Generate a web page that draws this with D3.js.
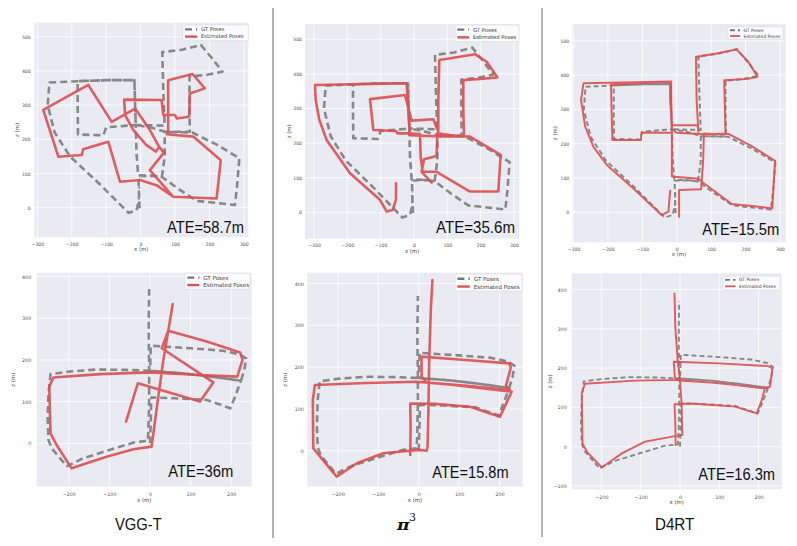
<!DOCTYPE html>
<html><head><meta charset="utf-8">
<script src="https://cdn.jsdelivr.net/npm/d3@7"></script>
<style>body{margin:0;background:#fff} svg{display:block}</style>
</head><body>
<svg id="c" width="797" height="546"></svg>
<script>
// ---------------- DATA ----------------
const methods = ["VGG-T", "π", "D4RT"];
const ateTop = ["ATE=58.7m", "ATE=35.6m", "ATE=15.5m"];
const ateBottom = ["ATE=36m", "ATE=15.8m", "ATE=16.3m"];
const legendLabels = ["GT Poses", "Estimated Poses"];
const xTicksTop = [-300, -200, -100, 0, 100, 200, 300];
const zTicksTop = [0, 100, 200, 300, 400, 500];
const xTicksBottom = [-200, -100, 0, 100, 200];
const zTicksBottom = [0, 100, 200, 300, 400];
const zTicksBottomD4 = [-100, 0, 100, 200, 300, 400];

// ground-truth trajectory, top row  [x, z] in metres
const gtTop = [
 [-3,-2],[-5,50],[-6,92],[30,93],[62,91],[70,150],[70,222],
 [110,222],[143,222],[142,300],[142,384],[190,388],[238,398],[205,440],[175,476],[120,462],[63,455],[66,340],[70,240],
 [28,241],[-14,242],[-16,300],[-18,373],[-100,373],[-183,370],[-183,300],[-182,214],[-108,212],[-100,235],[-14,242],
 [-12,160],[-7,95],[30,94],[62,90],[110,55],[163,20],[220,14],[274,8],[280,60],[287,145],[220,185],[150,220],[72,222],
 [28,235],[-14,242],[-16,300],[-18,373],[-100,373],[-183,370],[-265,366],[-270,300],[-250,220],[-205,150],[-120,70],[-35,-15],[-12,-8],[-5,20],[-4,60]
];
const estVggTop = [
 [80,217],[80,373],[151,391],[187,349],[143,334],[141,266],[105,261],[100,271],[66,271],[61,315],[-48,316],
 [-45,271],[-21,227],[17,183],[45,164],[54,178],[27,227],[-16,290],[-84,251],[-152,359],[-283,286],[-239,149],
 [-171,154],[-167,171],[-94,193],[-60,76],[-2,81],[46,66],[95,32],[221,27],[233,139],[153,208],[76,215],
 null,[54,178],[68,161],[27,110],[93,34]
];
const estPiTop = [
 [53,86],[23,117],[30,153],[68,163],[70,228],
 [108,223],[150,219],[148,305],[148,382],[208,386],[250,390],[218,435],[183,457],[128,448],[76,440],[73,325],[73,233],
 [58,269],[-7,265],[-27,339],[-132,327],[-122,238],[-54,235],[-50,228],[-12,228],
 [18,226],[20,161],[26,117],[68,117],[168,60],[253,60],[260,166],[168,219],[78,219],
 [-12,223],[-17,296],[-22,373],[-132,371],[-297,368],[-295,325],[-284,267],[-262,209],[-192,113],[-102,36],[-82,2],[-64,7],[-54,36],[-54,84]
];
const estD4Top = [
 [7,-13],[7,65],[71,67],[77,152],[79,230],
 [111,228],[142,230],[140,308],[138,385],[208,389],[235,395],[208,439],[174,475],[116,463],[56,453],[58,327],[63,235],
 [61,254],[-14,254],[-19,327],[-19,379],[-121,376],[-191,371],[-189,288],[-187,211],[-104,211],[-102,233],[-14,232],
 [-14,162],[-14,104],[63,98],[77,86],[160,24],[218,18],[278,12],[282,85],[286,150],[218,193],[152,228],[73,228],
 [0,232],[-14,242],[-16,327],[-16,381],[-121,379],[-271,376],[-278,327],[-266,250],[-242,191],[-203,138],[-121,65],[-44,-8],[-24,2],[-19,63]
];

// ground-truth trajectory, bottom row
const gtBottom = [
 [0,0],[2,55],[3,110],[60,108],[140,104],[198,84],[212,118],[224,150],[150,160],[80,168],[0,174],
 [1,200],[2,234],[100,228],[180,222],[222,213],[237,203],[232,175],[224,150],[150,160],[80,168],[0,174],
 [-60,176],[-130,177],[-200,172],[-245,166],[-250,120],[-252,60],[-250,8],[-242,-12],[-205,-55],[-165,-36],[-100,-16],[-40,2],[-5,6],
 [-3,60],[-2,120],[-2,175],[-3,250],[-3,300],[-2,370]
];
const estVggBot = [
 [-59,52],[-30,144],[123,100],[156,146],[29,228],[45,270],[140,244],[222,218],[228,200],[215,160],[123,164],
 [0,170],[-123,166],[-238,158],[-248,136],[-245,24],[-230,-4],[-193,-60],[-156,-48],[-107,-32],[-41,-14],[4,-8],
 [16,80],[33,200],[56,334]
];
const estPiBot = [
 [-21,-10],[-20,60],[-21,113],[40,112],[127,105],[201,81],[230,141],[150,150],[60,160],[20,163],[7,177],[7,225],
 [100,218],[224,209],[228,199],[216,155],[226,145],[120,155],[-5,165],[-130,162],[-257,157],[-262,121],[-261,6],
 [-244,-14],[-203,-62],[-153,-30],[-88,-6],[-1,2],[20,0],[22,10],[24,97],[26,217],[30,337],[34,408]
];
const estD4Bot = [
 [-11,4],[-12,60],[-14,108],[30,110],[140,102],[195,85],[208,118],[216,148],[150,156],[80,163],[0,168],[-13,175],
 [-16,216],[100,212],[225,205],[235,199],[229,153],[216,148],[106,161],[-4,170],[-114,168],[-242,160],[-250,136],
 [-248,8],[-237,-13],[-199,-53],[-148,-17],[-89,13],[-13,27],[6,30],[4,110],[0,170],[-6,220],[-12,305],[-14,390]
];

// ---------------- LAYOUT ----------------
const panels = [
 {gt:gtTop, est:estVggTop, ate:ateTop[0], box:[34.3,22.7,248.3,237.3], xd:[-309,313], yd:[-86.5,541], xt:xTicksTop, yt:zTicksTop,
  lw:2.6, dash:"7,4", tfs:4.6, xpad:5.1, ygap:3.6, ytitle:17.6, xtitle:14, leg:[65.6,15.7,5.2], legOff:[0,2.3], ateX:[167,77,233]},
 {gt:gtTop, est:estPiTop, ate:ateTop[1], box:[305,24,519.3,238.7], xd:[-327,316], yd:[-76.3,544.2], xt:xTicksTop, yt:zTicksTop,
  lw:2.6, dash:"7,4", tfs:4.6, xpad:5.1, ygap:3, ytitle:15.5, xtitle:14, leg:[64,16.7,5.3], legOff:[0.3,1], ateX:[436,79,233.3]},
 {gt:gtTop, est:estD4Top, ate:ateTop[2], box:[572.3,24,785.7,242.3], xd:[-303.5,316.9], yd:[-87.5,549], xt:xTicksTop, yt:zTicksTop,
  lw:2.0, dash:"5,3", tfs:4.6, xpad:5.1, ygap:3, ytitle:16.8, xtitle:14, leg:[55,12.6,4.5], legOff:[2.7,2.7], ateX:[702.3,77,235]},
 {gt:gtBottom, est:estVggBot, ate:ateBottom[0], box:[36.7,272.7,251.7,486.7], xd:[-279,250.5], yd:[-104,409.1], xt:xTicksBottom, yt:zTicksBottom,
  lw:2.6, dash:"7,4", tfs:4.8, xpad:5.9, ygap:5.5, ytitle:24, xtitle:15, leg:[65,16,5.6], legOff:[1.7,0.5], ateX:[168.3,65,476.7]},
 {gt:gtBottom, est:estPiBot, ate:ateBottom[1], box:[307.3,272.7,522.7,486.7], xd:[-275.7,257.4], yd:[-86.1,425.8], xt:xTicksBottom, yt:zTicksBottom,
  lw:2.6, dash:"7,4", tfs:4.8, xpad:5.9, ygap:3.5, ytitle:22.6, xtitle:15, leg:[67,17,5.6], legOff:[0.7,1.3], ateX:[432.3,76.3,478.3]},
 {gt:gtBottom, est:estD4Bot, ate:ateBottom[2], box:[571.7,273.3,781.7,489.3], xd:[-275.6,258.8], yd:[-108.4,441.2], xt:xTicksBottom, yt:zTicksBottomD4,
  lw:1.9, dash:"5,3", tfs:4.8, xpad:5.9, ygap:5, ytitle:21.4, xtitle:15, leg:[57,14,4.5], legOff:[1.7,2.7], ateX:[698.3,76.7,480]}
];

const RED = "#dc5052", GRAY = "#777777";
const svg = d3.select("#c");
const defs = svg.append("defs");
defs.append("filter").attr("id", "soft").attr("x", "-5%").attr("y", "-5%").attr("width", "110%").attr("height", "110%")
  .append("feGaussianBlur").attr("stdDeviation", 0.45);
const fmt = v => v < 0 ? "\u2212" + Math.abs(v) : String(v);

panels.forEach((p, i) => {
  const [L, T, R, B] = p.box;
  const x = d3.scaleLinear().domain(p.xd).range([L, R]);
  const y = d3.scaleLinear().domain(p.yd).range([B, T]);
  const g = svg.append("g");
  g.append("rect").attr("x", L).attr("y", T).attr("width", R - L).attr("height", B - T).attr("fill", "#eaeaf2");
  g.append("g").selectAll("line").data(p.xt).join("line")
    .attr("x1", d => x(d)).attr("x2", d => x(d)).attr("y1", T).attr("y2", B)
    .attr("stroke", "#fff").attr("stroke-width", 0.8);
  g.append("g").selectAll("line").data(p.yt).join("line")
    .attr("y1", d => y(d)).attr("y2", d => y(d)).attr("x1", L).attr("x2", R)
    .attr("stroke", "#fff").attr("stroke-width", 0.8);

  const ax = g.append("g").attr("transform", `translate(0,${B})`)
    .call(d3.axisBottom(x).tickValues(p.xt).tickSize(0).tickPadding(p.xpad).tickFormat(fmt));
  const ay = g.append("g").attr("transform", `translate(${L},0)`)
    .call(d3.axisLeft(y).tickValues(p.yt).tickSize(0).tickPadding(p.ygap).tickFormat(fmt));
  [ax, ay].forEach(a => {
    a.select(".domain").remove();
    a.selectAll("text").attr("font-family", "DejaVu Sans").attr("font-size", p.tfs).attr("fill", "#555");
  });
  g.append("text").attr("x", (L + R) / 2).attr("y", B + p.xtitle).attr("text-anchor", "middle")
    .attr("font-family", "DejaVu Sans").attr("font-size", 5.4).attr("fill", "#444").text("x (m)");
  g.append("text").attr("transform", `translate(${L - p.ytitle},${(T + B) / 2}) rotate(-90)`)
    .attr("text-anchor", "middle").attr("dy", "0.35em")
    .attr("font-family", "DejaVu Sans").attr("font-size", 5.4).attr("fill", "#444").text("z (m)");

  const cid = "clip" + i;
  defs.append("clipPath").attr("id", cid).append("rect")
    .attr("x", L).attr("y", T).attr("width", R - L).attr("height", B - T);
  const line = d3.line().defined(d => d !== null).x(d => x(d[0])).y(d => y(d[1]));
  const pl = g.append("g").attr("clip-path", `url(#${cid})`).append("g").attr("filter", "url(#soft)");
  pl.append("path").attr("d", line(p.gt)).attr("fill", "none").attr("stroke", GRAY)
    .attr("stroke-opacity", 0.85).attr("stroke-width", p.lw).attr("stroke-dasharray", p.dash)
    .attr("stroke-linejoin", "round");
  pl.append("path").attr("d", line(p.est)).attr("fill", "none").attr("stroke", RED)
    .attr("stroke-opacity", 0.9).attr("stroke-width", p.lw)
    .attr("stroke-linejoin", "round").attr("stroke-linecap", "round");

  // legend
  const [lw, lh, lfs] = p.leg;
  const lx = R - p.legOff[0] - lw, ly = T + p.legOff[1];
  const lg = g.append("g");
  lg.append("rect").attr("x", lx).attr("y", ly).attr("width", lw).attr("height", lh).attr("rx", 1)
    .attr("fill", "#fff").attr("fill-opacity", 0.8).attr("stroke", "#d0d0d0").attr("stroke-width", 0.5);
  const rows = [ly + lh * 0.28, ly + lh * 0.74];
  lg.append("line").attr("x1", lx + lw * 0.035).attr("x2", lx + lw * 0.22).attr("y1", rows[0]).attr("y2", rows[0])
    .attr("stroke", GRAY).attr("stroke-width", p.lw * 0.9).attr("stroke-dasharray", p.dash);
  lg.append("line").attr("x1", lx + lw * 0.035).attr("x2", lx + lw * 0.22).attr("y1", rows[1]).attr("y2", rows[1])
    .attr("stroke", RED).attr("stroke-width", p.lw * 0.9);
  legendLabels.forEach((t, k) => {
    lg.append("text").attr("x", lx + lw * 0.28).attr("y", rows[k]).attr("dy", "0.35em")
      .attr("font-family", "DejaVu Sans").attr("font-size", lfs).attr("fill", "#444").text(t);
  });

  // ATE text
  g.append("text").attr("x", p.ateX[0]).attr("y", p.ateX[2])
    .attr("textLength", p.ateX[1]).attr("lengthAdjust", "spacingAndGlyphs")
    .attr("font-family", "Liberation Sans, Arial, sans-serif").attr("font-size", 16).attr("fill", "#111")
    .text(p.ate);
});

// separators
[[273, 8, 538], [542, 8, 537]].forEach(s => {
  svg.append("line").attr("x1", s[0]).attr("x2", s[0]).attr("y1", s[1]).attr("y2", s[2])
    .attr("stroke", "#8a8a8a").attr("stroke-width", 1.3);
});

// method labels
svg.append("text").attr("x", 115).attr("y", 530).attr("textLength", 46.7).attr("lengthAdjust", "spacingAndGlyphs")
  .attr("font-family", "Liberation Sans, Arial, sans-serif").attr("font-size", 16).attr("fill", "#111").text(methods[0]);
svg.append("text").attr("x", 397).attr("y", 530).attr("textLength", 12.5).attr("lengthAdjust", "spacingAndGlyphs")
  .attr("font-family", "DejaVu Serif, serif").attr("font-weight", "bold").attr("font-style", "italic")
  .attr("font-size", 14).attr("fill", "#111").text(methods[1]);
svg.append("text").attr("x", 409).attr("y", 520.7)
  .attr("font-family", "DejaVu Serif, serif").attr("font-size", 11).attr("fill", "#111").text("3");
svg.append("text").attr("x", 655).attr("y", 530).attr("textLength", 39.3).attr("lengthAdjust", "spacingAndGlyphs")
  .attr("font-family", "Liberation Sans, Arial, sans-serif").attr("font-size", 16).attr("fill", "#111").text(methods[2]);
</script>
</body></html>
